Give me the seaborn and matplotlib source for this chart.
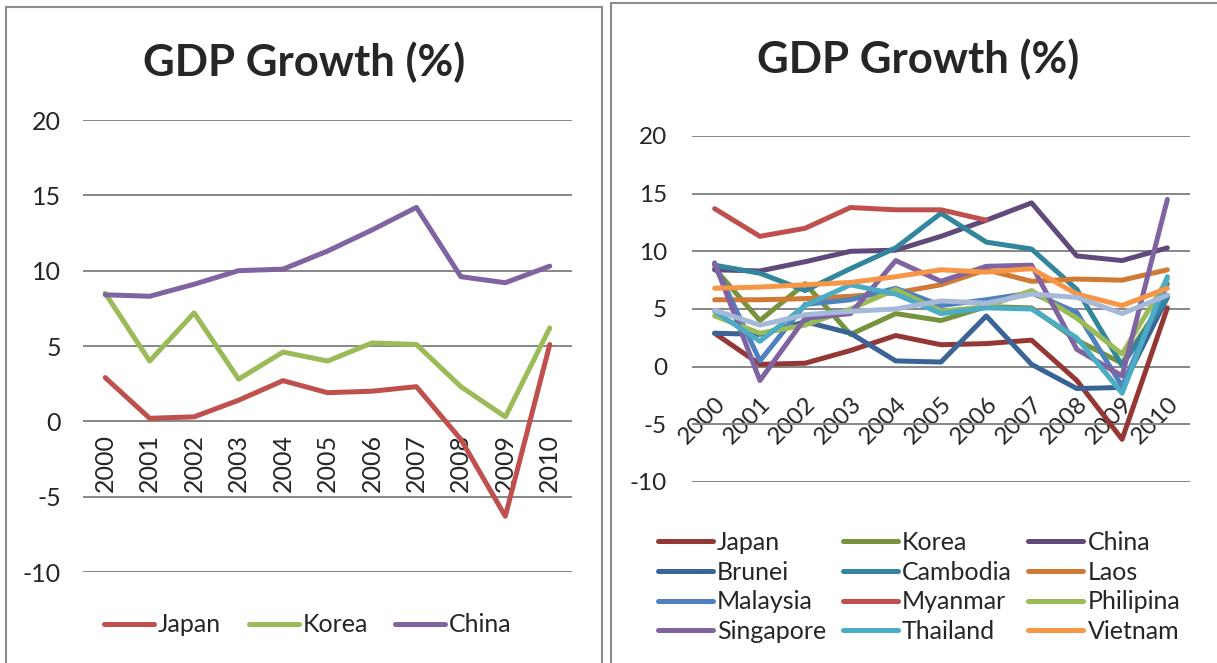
import numpy as np
import pandas as pd
import matplotlib.pyplot as plt
from matplotlib.patches import Rectangle
import seaborn as sns

# GDP growth (%) 2000-2010
years = list(range(2000, 2011))
japan = [2.9, 0.2, 0.3, 1.4, 2.7, 1.9, 2.0, 2.3, -1.2, -6.3, 5.1]
korea = [8.5, 4.0, 7.2, 2.8, 4.6, 4.0, 5.2, 5.1, 2.3, 0.3, 6.2]
china = [8.4, 8.3, 9.1, 10.0, 10.1, 11.3, 12.7, 14.2, 9.6, 9.2, 10.3]
brunei = [2.9, 2.8, 3.9, 2.9, 0.5, 0.4, 4.4, 0.2, -1.9, -1.8, 6.0]
cambodia = [8.8, 8.1, 6.6, 8.5, 10.3, 13.3, 10.8, 10.2, 6.7, 0.1, 6.0]
laos = [5.8, 5.8, 5.9, 6.1, 6.4, 7.1, 8.4, 7.4, 7.6, 7.5, 8.4]
malaysia = [8.9, 0.5, 5.4, 5.8, 6.8, 5.3, 5.8, 6.4, 4.7, -1.7, 7.2]
myanmar = [13.7, 11.3, 12.0, 13.8, 13.6, 13.6, 12.7, np.nan, np.nan, np.nan, np.nan]
philipina = [4.4, 2.9, 3.6, 5.0, 6.7, 4.8, 5.2, 6.6, 4.2, 1.1, 7.6]
singapore = [9.0, -1.2, 4.2, 4.6, 9.2, 7.4, 8.7, 8.8, 1.5, -0.8, 14.5]
thailand = [4.8, 2.2, 5.3, 7.1, 6.3, 4.6, 5.1, 5.0, 2.5, -2.3, 7.8]
vietnam = [6.8, 6.9, 7.1, 7.3, 7.8, 8.4, 8.2, 8.5, 6.3, 5.3, 6.8]
indonesia = [4.9, 3.6, 4.5, 4.8, 5.0, 5.7, 5.5, 6.3, 6.0, 4.6, 6.2]  # no legend entry in the reference

left_names = ["Japan", "Korea", "China"]
left_series = [japan, korea, china]
left_colors = ["#C0504D", "#9BBB59", "#8064A2"]

right_names = ["Japan", "Korea", "China", "Brunei", "Cambodia", "Laos",
               "Malaysia", "Myanmar", "Philipina", "Singapore", "Thailand", "Vietnam",
               "Indonesia"]
right_series = [japan, korea, china, brunei, cambodia, laos,
                malaysia, myanmar, philipina, singapore, thailand, vietnam, indonesia]
right_colors = ["#953735", "#77933C", "#604A7B", "#3B6496", "#31859C", "#D07A35",
                "#4F81BD", "#C0504D", "#9BBB59", "#8064A2", "#4BACC6", "#F79646",
                "#A7B9D9"]


def long_frame(names, series):
    rows = []
    for name, vals in zip(names, series):
        for yr, v in zip(years, vals):
            rows.append({"country": name, "year": yr, "growth": v})
    return pd.DataFrame(rows).dropna()


sns.set_style("white")
plt.rcParams['font.family'] = ['Lato', 'DejaVu Sans']
plt.rcParams['axes.unicode_minus'] = False

W, H = 1217, 663
fig = plt.figure(figsize=(W / 100, H / 100), dpi=100)

# panel frames
fig.add_artist(Rectangle((6 / W, -0.01), 596 / W, 1.01 - 7 / H, transform=fig.transFigure,
                         fill=False, edgecolor="#8C8C8C", lw=1.5))
fig.add_artist(Rectangle((611 / W, -0.01), 610 / W, 1.01 - 3 / H, transform=fig.transFigure,
                         fill=False, edgecolor="#8C8C8C", lw=1.5))

ax1 = fig.add_axes([83 / W, 1 - 572 / H, 489 / W, 452 / H])
ax2 = fig.add_axes([692 / W, 1 - 482 / H, 498 / W, 346 / H])

lw = 3.6
sns.lineplot(data=long_frame(left_names, left_series), x="year", y="growth", hue="country",
             hue_order=left_names, palette=dict(zip(left_names, left_colors)),
             linewidth=lw, legend=False, ax=ax1)
sns.lineplot(data=long_frame(right_names, right_series), x="year", y="growth", hue="country",
             hue_order=right_names, palette=dict(zip(right_names, right_colors)),
             linewidth=lw, legend=False, ax=ax2)

for ax in (ax1, ax2):
    for ln in ax.lines:
        ln.set_solid_capstyle("round")
        ln.set_solid_joinstyle("round")
    ax.set_xlim(1999.5, 2010.5)
    ax.set_ylim(-10, 20)
    ax.set_yticks(range(-10, 25, 5))
    ax.set_xticks(years)
    ax.set_xticklabels([str(y) for y in years])
    ax.grid(axis="y", color="#868686", lw=1.4)
    ax.grid(axis="x", visible=False)
    ax.set_axisbelow(True)
    for s in ax.spines.values():
        s.set_visible(False)
    ax.spines["bottom"].set_position(("data", 0))
    ax.set_xlabel("")
    ax.set_ylabel("")
    ax.patch.set_alpha(0)

ax1.tick_params(axis="both", length=0, labelsize=18)
ax1.tick_params(axis="y", pad=16)
ax1.tick_params(axis="x", pad=9)
for lab in ax1.get_xticklabels():
    lab.set_rotation(90)
    lab.set_va("top")
    lab.set_ha("center")

ax2.tick_params(axis="both", length=0, labelsize=17.5)
ax2.tick_params(axis="y", pad=18)
ax2.tick_params(axis="x", pad=19)
for lab in ax2.get_xticklabels():
    lab.set_rotation(45)
    lab.set_rotation_mode("anchor")
    lab.set_ha("right")
    lab.set_va("top")

fig.text(304 / W, 1 - 62 / H, "GDP Growth (%)", ha="center", va="center",
         fontsize=31.5, fontweight="bold")
fig.text(918 / W, 1 - 59 / H, "GDP Growth (%)", ha="center", va="center",
         fontsize=31.5, fontweight="bold")

# legends
h1 = ax1.lines[:3]
ax1.legend(h1, left_names, ncol=3, loc="center", bbox_to_anchor=(308 / W, 1 - 625 / H),
           bbox_transform=fig.transFigure, frameon=False, fontsize=18,
           handlelength=2.0, handletextpad=0.15, columnspacing=1.1)

h2 = ax2.lines[:12]
labels2 = right_names[:12]
order = [r * 3 + c for c in range(3) for r in range(4)]  # row-wise fill
ax2.legend([h2[i] for i in order], [labels2[i] for i in order], ncol=3, loc="center",
           bbox_to_anchor=(919 / W, 1 - 587 / H), bbox_transform=fig.transFigure,
           frameon=False, fontsize=18, handlelength=2.2, handletextpad=0.16,
           columnspacing=0.67, labelspacing=0.27)

fig.savefig("out.png", dpi=100)
